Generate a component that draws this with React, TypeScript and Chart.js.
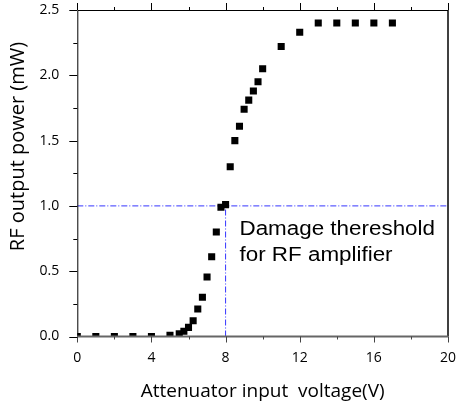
import React, { useEffect, useRef } from "react";
import { Chart, registerables } from "chart.js";

Chart.register(...registerables);

const voltage = [0, 1, 2, 3, 4, 5, 5.5, 5.75, 6, 6.25, 6.5, 6.75, 7, 7.25, 7.5, 7.75, 8, 8.25, 8.5, 8.75, 9, 9.25, 9.5, 9.75, 10, 11, 12, 13, 14, 15, 16, 17];
const power = [0, 0, 0, 0, 0, 0.01, 0.02, 0.04, 0.07, 0.12, 0.21, 0.3, 0.455, 0.61, 0.8, 0.99, 1.01, 1.3, 1.5, 1.61, 1.74, 1.81, 1.88, 1.95, 2.05, 2.22, 2.33, 2.4, 2.4, 2.4, 2.4, 2.4];

const thresholdPower = 1.0;
const thresholdVoltage = 8;
const xRange = [0, 20];
const yRange = [0, 2.5];
const xMajorStep = 4;
const xMinorStep = 2;
const yMajorStep = 0.5;
const yMinorStep = 0.25;

const xTitle = "Attenuator input  voltage(V)";
const yTitle = "RF output power (mW)";
const noteLines = ["Damage thereshold", "for RF amplifier"];
const noteAnchor = { x: 8.75, y: 0.78 };

const framePlugin = {
  id: "frame",
  afterDatasetsDraw(chart: any) {
    const { ctx, chartArea, scales } = chart;
    const { left, right, top, bottom } = chartArea;
    const xs = scales.x;
    const ys = scales.y;
    ctx.save();
    ctx.strokeStyle = "#000";
    ctx.lineWidth = 1;
    ctx.beginPath();
    ctx.moveTo(left + 0.5, bottom);
    ctx.lineTo(left + 0.5, top + 0.5);
    ctx.lineTo(right, top + 0.5);
    ctx.stroke();
    ctx.lineWidth = 1.5;
    ctx.beginPath();
    ctx.moveTo(right, top);
    ctx.lineTo(right, bottom);
    ctx.stroke();
    ctx.strokeStyle = "#666";
    ctx.lineWidth = 2;
    ctx.beginPath();
    ctx.moveTo(left, bottom);
    ctx.lineTo(right, bottom);
    ctx.stroke();

    ctx.lineWidth = 1;
    for (let v = xRange[0]; v <= xRange[1] + 1e-9; v += xMinorStep) {
      const px = Math.round(xs.getPixelForValue(v)) + 0.5;
      const major = Math.abs(v / xMajorStep - Math.round(v / xMajorStep)) < 1e-6;
      ctx.strokeStyle = "#444";
      ctx.beginPath();
      ctx.moveTo(px, bottom);
      ctx.lineTo(px, bottom + (major ? 6 : 3));
      ctx.stroke();
      ctx.strokeStyle = "#000";
      ctx.beginPath();
      ctx.moveTo(px, top);
      ctx.lineTo(px, top - (major ? 7 : 3));
      ctx.stroke();
    }
    ctx.strokeStyle = "#000";
    for (let v = yRange[0]; v <= yRange[1] + 1e-9; v += yMinorStep) {
      const py = Math.round(ys.getPixelForValue(v)) + 0.5;
      const major = Math.abs(v / yMajorStep - Math.round(v / yMajorStep)) < 1e-6;
      ctx.beginPath();
      ctx.moveTo(left, py);
      ctx.lineTo(left - (major ? 8 : 4), py);
      ctx.stroke();
    }

    ctx.fillStyle = "#000";
    ctx.font = "20px 'Open Sans'";
    ctx.textAlign = "center";
    ctx.textBaseline = "middle";
    ctx.translate(18, 146.5);
    ctx.rotate(-Math.PI / 2);
    ctx.fillText(yTitle, 0, 0);
    ctx.restore();

    ctx.save();
    ctx.fillStyle = "#000";
    ctx.font = "20px 'Liberation Sans'";
    ctx.textAlign = "left";
    ctx.textBaseline = "alphabetic";
    const ax = xs.getPixelForValue(noteAnchor.x);
    const ay = ys.getPixelForValue(noteAnchor.y);
    noteLines.forEach((line, i) => {
      ctx.save();
      ctx.translate(ax, ay + i * 26.7);
      ctx.scale(1.12, 1);
      ctx.fillText(line, 0, 0);
      ctx.restore();
    });
    ctx.restore();
  },
};

export default function App() {
  const ref = useRef<HTMLCanvasElement | null>(null);
  useEffect(() => {
    document.body.style.margin = "0";
    const canvas = ref.current;
    if (!canvas) return;
    const chart = new Chart(canvas, {
      type: "scatter",
      data: {
        datasets: [
          {
            type: "line",
            data: [
              { x: xRange[0], y: thresholdPower },
              { x: xRange[1], y: thresholdPower },
            ],
            borderColor: "#3535ff",
            borderWidth: 1,
            borderDash: [6, 2, 1, 2],
            pointRadius: 0,
            fill: false,
            order: 2,
          } as any,
          {
            type: "line",
            data: [
              { x: thresholdVoltage, y: yRange[0] },
              { x: thresholdVoltage, y: thresholdPower },
            ],
            borderColor: "#3535ff",
            borderWidth: 1,
            borderDash: [6, 2, 1, 2],
            pointRadius: 0,
            fill: false,
            order: 2,
          } as any,
          {
            data: voltage.map((v, i) => ({ x: v, y: power[i] })),
            pointStyle: "rect",
            pointRadius: 5,
            pointBackgroundColor: "#000",
            pointBorderColor: "#000",
            pointBorderWidth: 0,
            showLine: false,
            clip: 0,
            order: 1,
          } as any,
        ],
      },
      options: {
        animation: false,
        responsive: false,
        layout: { padding: { top: 10, right: 9, left: 0, bottom: 0 } },
        plugins: { legend: { display: false }, tooltip: { enabled: false } },
        scales: {
          x: {
            type: "linear",
            min: xRange[0],
            max: xRange[1],
            ticks: { stepSize: xMajorStep, color: "#000", font: { family: "'Open Sans'", size: 14 }, padding: 5, maxRotation: 0 },
            grid: { display: false },
            border: { display: false },
            title: { display: true, text: xTitle, color: "#000", font: { family: "'Open Sans'", size: 19 }, padding: { top: 0, bottom: 4 } },
            afterFit: (s: any) => { s.height = 70.5; s.paddingLeft = 0; s.paddingRight = 0; },
          },
          y: {
            type: "linear",
            min: yRange[0],
            max: yRange[1],
            ticks: { stepSize: yMajorStep, color: "#000", font: { family: "'Open Sans'", size: 14 }, padding: 10, callback: (v: any) => Number(v).toFixed(1) },
            grid: { display: false },
            border: { display: false },
            afterFit: (s: any) => { s.width = 77.3; s.paddingTop = 0; s.paddingBottom = 0; },
          },
        },
      },
      plugins: [framePlugin],
    } as any);
    return () => chart.destroy();
  }, []);
  return <canvas ref={ref} width={457} height={407} style={{ display: "block" }} />;
}
